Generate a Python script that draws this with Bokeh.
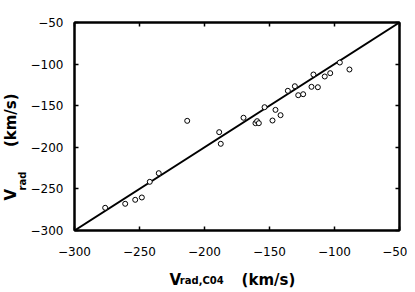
import math
from bokeh.plotting import figure
from bokeh.models import LinearAxis, Label, FixedTicker, Range1d, CustomJSTickFormatter
from bokeh.embed import file_html
from bokeh.resources import INLINE

# data
x_c04 = [-276.4, -261.0, -253.3, -248.2, -242.1, -235.2, -213.3, -188.7, -187.5,
         -170.0, -160.8, -159.5, -158.2, -153.8, -147.7, -145.4, -141.5, -135.9,
         -130.5, -127.9, -124.1, -117.7, -116.2, -112.8, -107.5, -103.3, -95.9, -88.5]
v_rad = [-272.7, -267.9, -263.1, -260.3, -241.5, -231.1, -168.2, -181.8, -195.8,
         -164.5, -171.0, -168.6, -171.0, -151.8, -167.8, -155.0, -161.4, -132.1,
         -126.6, -137.4, -136.2, -127.3, -112.5, -127.8, -114.9, -110.9, -98.1, -106.5]
line_x = [-300, -50]
line_y = [-300, -50]
x_ticks = [-300, -250, -200, -150, -100, -50]
y_ticks = [-300, -250, -200, -150, -100, -50]

FONT = "DejaVu Sans"
NB = "\u00a0"
TH = "\u2009"

p = figure(width=407, height=292, output_backend="svg", toolbar_location=None,
           x_range=Range1d(-300, -50), y_range=Range1d(-300, -50),
           x_axis_type=None, y_axis_type=None,
           min_border_left=74, min_border_right=8, min_border_top=22, min_border_bottom=62)
p.grid.visible = False
p.outline_line_color = "black"
p.outline_line_width = 2
p.background_fill_color = "white"
p.border_fill_color = "white"

def mk_axis(ticks, show_labels, standoff):
    ax = LinearAxis(ticker=FixedTicker(ticks=ticks))
    ax.axis_line_color = "black"
    ax.axis_line_width = 2
    ax.major_tick_in = 4
    ax.major_tick_out = 0
    ax.major_tick_line_width = 1.5
    ax.major_tick_line_color = "black"
    ax.minor_tick_line_color = None
    ax.major_label_text_font = FONT
    ax.major_label_text_color = "black"
    ax.major_label_standoff = standoff
    ax.major_label_text_font_size = "12px"
    if not show_labels:
        ax.formatter = CustomJSTickFormatter(code="return ''")
        ax.major_label_standoff = 0
    return ax

p.add_layout(mk_axis(x_ticks, True, 16), "below")
p.add_layout(mk_axis(y_ticks, True, 11), "left")
p.add_layout(mk_axis(x_ticks, False, 0), "above")
p.add_layout(mk_axis(y_ticks, False, 0), "right")

p.line(line_x, line_y, line_color="black", line_width=2)
p.scatter(x_c04, v_rad, marker="circle", size=5, fill_color="white",
          line_color="black", line_width=1)

def lab(side, x, y, text, size, angle=0):
    p.add_layout(Label(x=x, y=y, x_units="screen", y_units="screen", text=text,
                       text_font=FONT, text_font_style="bold", text_font_size=size,
                       text_color="black", angle=angle, text_baseline="alphabetic",
                       text_align="left"), side)

# x axis label: main part, then subscript (each in its own side panel)
lab("below", 95, -3.5, "V" + NB * 11 + TH + "(km/s)", "15px")
lab("below", 105.3, 6.7, "rad,C04", "10px")
# y axis label (rotated); subscript placed in the top panel to save width
lab("left", 1, 30, "V" + NB * 8 + "(km/s)", "15px", math.pi / 2)
lab("above", -52, -168, "rad", "10px", math.pi / 2)

open("out.html", "w").write(file_html(p, INLINE))
